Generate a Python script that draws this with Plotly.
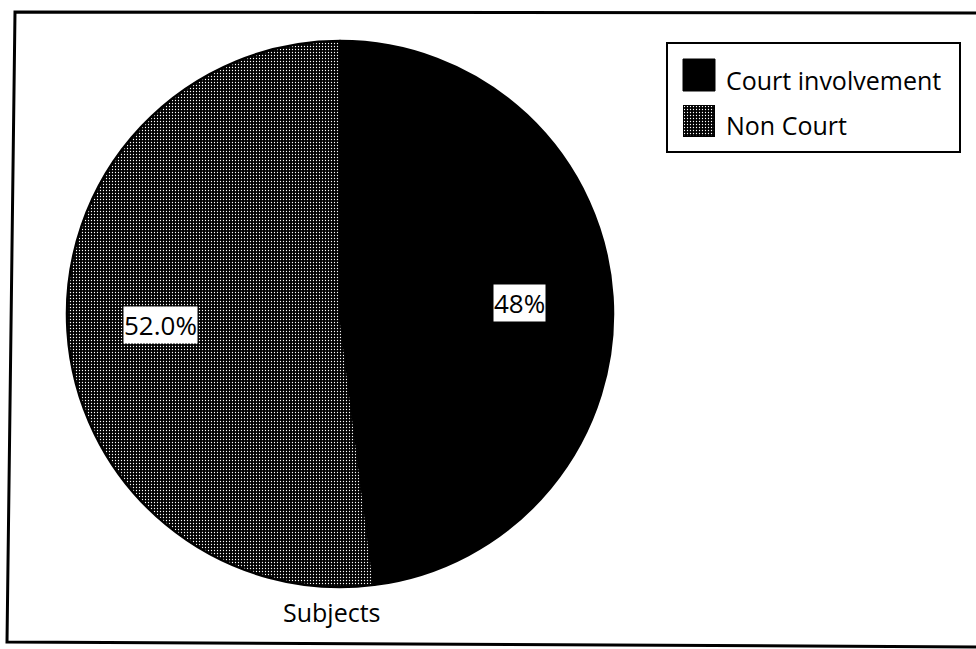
import math
import base64
import plotly.graph_objects as go

# Share of subjects with / without court involvement
categories = ["Court involvement", "Non Court"]
values = [48, 52]
label_formats = ["{:.0f}%", "{:.1f}%"]
axis_title = "Subjects"

W, H = 976, 649
FONT = "Open Sans"

# Pie geometry (pixels)
cx, cy, r = 340, 314, 273

def px(x):
    return x / W

def py(y):
    return 1 - y / H

fig = go.Figure()
fig.add_trace(go.Pie(
    labels=categories,
    values=values,
    sort=False,
    direction="clockwise",
    rotation=0,
    textinfo="none",
    hoverinfo="label+percent",
    showlegend=False,
    marker=dict(
        colors=["black", "black"],
        line=dict(color="black", width=2.5),
        pattern=dict(
            shape=["", "."], size=3, solidity=0.15,
            fgcolor="white", bgcolor="black", fillmode="replace",
        ),
    ),
    domain=dict(x=[px(cx - r), px(cx + r)], y=[py(cy + r), py(cy - r)]),
))

# Percentage labels at 0.66 of the radius along each slice's mid-angle
total = sum(values)
start = 0.0
annotations = []
for v, fmt in zip(values, label_formats):
    frac = v / total
    mid = (start + frac / 2) * 2 * math.pi
    lx = cx + 0.66 * r * math.sin(mid)
    ly = cy - 0.66 * r * math.cos(mid)
    annotations.append(dict(
        x=px(lx), y=py(ly), xref="paper", yref="paper",
        text=fmt.format(100 * frac), showarrow=False,
        font=dict(family=FONT, size=26, color="black"),
        bgcolor="white", borderpad=0,
        xanchor="center", yanchor="middle",
    ))
    start += frac

annotations.append(dict(
    x=px(332), y=py(612), xref="paper", yref="paper",
    text=axis_title, showarrow=False,
    font=dict(family=FONT, size=25, color="black"),
    xanchor="center", yanchor="middle",
))

# Legend drawn by hand: framed box, two swatches, two labels
shapes = []
shapes.append(dict(
    type="path", xref="paper", yref="paper",
    path=f"M 1.01,{py(13)} L {px(15)},{py(12)} L {px(7)},{py(642)} L 1.01,{py(647)}",
    line=dict(color="black", width=3),
))
shapes.append(dict(
    type="rect", xref="paper", yref="paper",
    x0=px(667), x1=px(960), y0=py(152), y1=py(43),
    line=dict(color="black", width=2), fillcolor="rgba(0,0,0,0)",
))
shapes.append(dict(
    type="rect", xref="paper", yref="paper",
    x0=px(683), x1=px(715), y0=py(91), y1=py(59),
    line=dict(color="black", width=1), fillcolor="black",
))

svg = (
    '<svg xmlns="http://www.w3.org/2000/svg" width="32" height="32">'
    '<defs><pattern id="p" width="3" height="3" patternUnits="userSpaceOnUse">'
    '<rect width="3" height="3" fill="black"/>'
    '<circle cx="1.5" cy="1.5" r="0.65" fill="white"/></pattern></defs>'
    '<rect width="32" height="32" fill="url(#p)" stroke="black" stroke-width="2"/></svg>'
)
swatch_src = "data:image/svg+xml;base64," + base64.b64encode(svg.encode()).decode()
images = [dict(
    source=swatch_src, xref="paper", yref="paper",
    x=px(683), y=py(105), sizex=32 / W, sizey=32 / H,
    xanchor="left", yanchor="top", sizing="stretch", layer="above",
)]

for name, yc in zip(categories, [80, 125]):
    annotations.append(dict(
        x=px(724), y=py(yc), xref="paper", yref="paper",
        text=name, showarrow=False,
        font=dict(family=FONT, size=25, color="black"),
        xanchor="left", yanchor="middle",
    ))

fig.update_layout(
    width=W, height=H,
    margin=dict(l=0, r=0, t=0, b=0),
    paper_bgcolor="white", plot_bgcolor="white",
    shapes=shapes, annotations=annotations, images=images,
    showlegend=False,
)

fig.write_html("out.html")
